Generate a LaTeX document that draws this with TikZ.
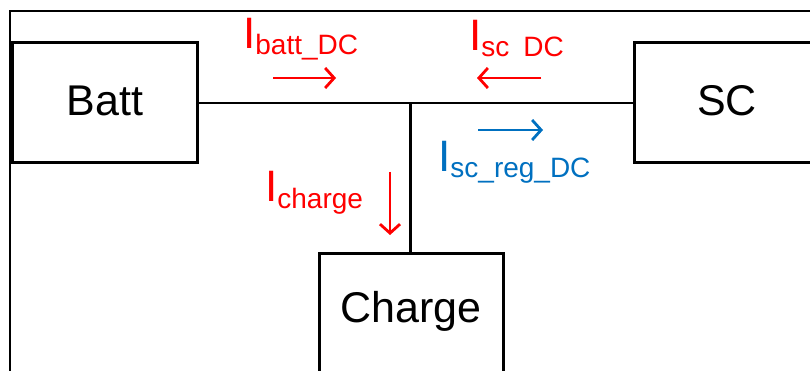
\documentclass[tikz,border=0pt]{standalone}
\usepackage{fontspec}
\setmainfont{Liberation Sans}
\usetikzlibrary{arrows.meta}
\definecolor{curred}{RGB}{255,0,0}
\definecolor{curblue}{RGB}{0,112,192}
\newcommand{\curlab}[1]{{\fontsize{44}{50}\selectfont I}\raisebox{-6pt}{\fontsize{28}{32}\selectfont #1}}
\tikzset{
  blockbox/.style={draw=black, line width=3pt, rectangle, inner sep=0pt},
  boxtext/.style={font=\fontsize{43}{50}\selectfont, inner sep=0pt},
  wire/.style={draw=black, line width=2.2pt},
  curarrow/.style={line width=2.8pt, -{Straight Barb[length=9pt,width=20pt,line width=2.8pt]}},
  curtext/.style={inner sep=0pt, anchor=base west}
}
\begin{document}
\begin{tikzpicture}[x=1pt,y=-1pt]
\useasboundingbox (0,0) rectangle (810,371);
\clip (0,0) rectangle (810,371);
% frame
\draw[line width=2pt] (10,375) -- (10,11) -- (815,11);
% blocks
\node[blockbox, minimum width=185pt, minimum height=120pt] (batt) at (104.5,103) {};
\node[boxtext] (batttext) at (105,101) {Batt};
\node[blockbox, minimum width=186pt, minimum height=120pt] (sc) at (727,103) {};
\node[boxtext] (sctext) at (727,101) {SC};
\node[blockbox, minimum width=184pt, minimum height=140pt, anchor=north] (charge) at (411,252) {};
\node[boxtext] (chargetext) at (411,311) {Charge};
% wires
\coordinate (junction) at (410,103);
\draw[wire] (batt.east) -- (sc.west);
\draw[wire, line width=3pt] (junction) -- (junction |- charge.north);
% current arrows
\coordinate (ba1) at (273,78); \coordinate (ba2) at (336,78);
\coordinate (sa1) at (541,78); \coordinate (sa2) at (477,78);
\coordinate (ra1) at (478,130); \coordinate (ra2) at (543,130);
\coordinate (ca1) at (390,172); \coordinate (ca2) at (390,235);
\draw[curarrow, curred] (ba1) -- (ba2);
\draw[curarrow, curred] (sa1) -- (sa2);
\draw[curarrow, curblue] (ra1) -- (ra2);
\draw[curarrow, curred] (ca1) -- (ca2);
% labels
\node[curtext, text=curred] (lbatt) at (243,49) {\curlab{batt\_DC}};
\node[curtext, text=curred] (lsc) at (469,51) {\curlab{sc\hspace{14pt}DC}};
\node[curtext, text=curblue] (lscreg) at (438,172) {\curlab{sc\_reg\_DC}};
\node[curtext, text=curred] (lcharge) at (265,202) {\curlab{charge}};
\end{tikzpicture}
\end{document}
